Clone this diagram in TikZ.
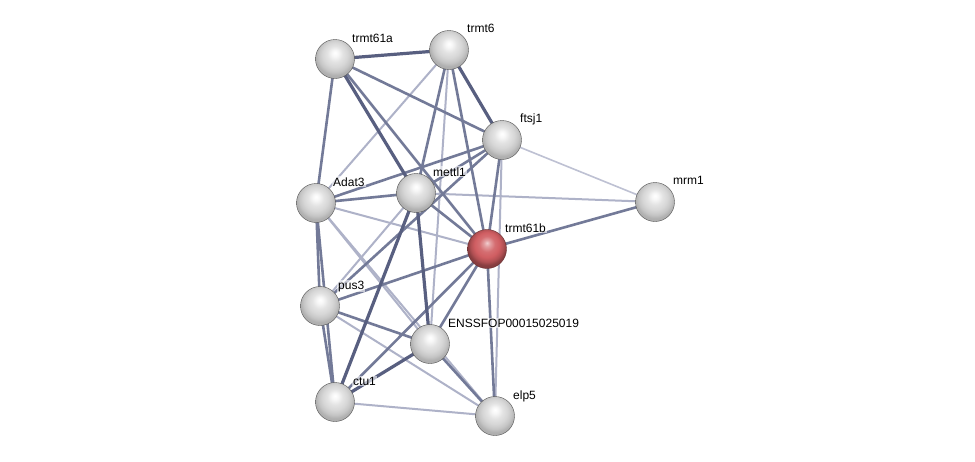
\documentclass[tikz,border=0pt]{standalone}
\usepackage{fontspec}
\setmainfont{Liberation Sans}
\definecolor{estrong}{RGB}{88,95,128}
\definecolor{emed}{RGB}{115,122,152}
\definecolor{elight}{RGB}{174,178,200}
\definecolor{ered}{RGB}{208,94,98}
\pgfdeclareradialshading{strball}{\pgfpoint{0bp}{8bp}}{%
  color(0bp)=(white); color(4bp)=(gray!6); color(10bp)=(gray!22);
  color(16bp)=(gray!32); color(21bp)=(gray!45); color(25bp)=(gray!62); color(50bp)=(gray!75)}
\pgfdeclareradialshading{redball}{\pgfpoint{0bp}{8bp}}{%
  color(0bp)=(ered!30!white); color(4bp)=(ered!60!white); color(10bp)=(ered!90!white);
  color(16bp)=(ered); color(21bp)=(ered!85!black); color(25bp)=(ered!65!black); color(50bp)=(ered!55!black)}
\begin{document}
\begin{tikzpicture}[x=1pt,y=-1pt,
  ball/.style={circle,minimum size=39pt,inner sep=0pt,shading=strball,draw=gray!65!black,line width=0.4pt},
  redb/.style={ball,shading=redball,draw=ered!50!black},
  lab/.style={anchor=base west,inner sep=1pt,fill=white,fill opacity=0.6,text opacity=1,font=\fontsize{12}{14}\selectfont},
  es/.style={draw=estrong,line width=3.2pt},
  em/.style={draw=emed,line width=2.6pt},
  el/.style={draw=elight,line width=2pt},
  evl/.style={draw=elight!80,line width=1.6pt}]
\useasboundingbox (0,0) rectangle (975,461);
\fill[white] (0,0) rectangle (975,461);
% coordinates of nodes
\coordinate (cA) at (335,59);
\coordinate (cT6) at (449,50);
\coordinate (cF) at (502,140);
\coordinate (cM) at (655,202);
\coordinate (cAd) at (316,203);
\coordinate (cMe) at (416,193);
\coordinate (cR) at (487,249);
\coordinate (cP) at (320,306);
\coordinate (cE) at (430,344);
\coordinate (cC) at (335,402);
\coordinate (cEl) at (495,416);
% edges
\draw[el] (cT6) -- (cAd);
\draw[el] (cT6) -- (cE);
\draw[evl] (cF) -- (cM);
\draw[el] (cF) -- (cEl);
\draw[el] (cAd) -- (cE);
\draw[el] (cAd) -- (cEl);
\draw[el] (cMe) -- (cM);
\draw[el] (cMe) -- (cP);
\draw[el] (cP) -- (cEl);
\draw[el] (cC) -- (cEl);
\draw[el] (cAd) -- (cR);
\draw[em] (cA) -- (cF);
\draw[em] (cA) -- (cAd);
\draw[em] (cA) -- (cR);
\draw[em] (cT6) -- (cMe);
\draw[em] (cT6) -- (cR);
\draw[em] (cF) -- (cAd);
\draw[em] (cF) -- (cMe);
\draw[em] (cF) -- (cR);
\draw[em] (cF) -- (cP);
\draw[em] (cAd) -- (cMe);
\draw[em] (cAd) -- (cP);
\draw[em] (cAd) -- (cC);
\draw[em] (cMe) -- (cR);
\draw[em] (cR) -- (cM);
\draw[em] (cR) -- (cP);
\draw[em] (cR) -- (cE);
\draw[em] (cR) -- (cC);
\draw[em] (cR) -- (cEl);
\draw[em] (cP) -- (cC);
\draw[em] (cP) -- (cE);
\draw[em] (cE) -- (cEl);
\draw[es] (cA) -- (cT6);
\draw[es] (cA) -- (cMe);
\draw[es] (cT6) -- (cF);
\draw[es] (cMe) -- (cC);
\draw[es] (cMe) -- (cE);
\draw[es] (cE) -- (cC);
% nodes
\node[ball] (A) at (cA) {};
\node[ball] (T6) at (cT6) {};
\node[ball] (F) at (cF) {};
\node[ball] (M) at (cM) {};
\node[ball] (Ad) at (cAd) {};
\node[ball] (Me) at (cMe) {};
\node[redb] (R) at (cR) {};
\node[ball] (P) at (cP) {};
\node[ball] (E) at (cE) {};
\node[ball] (C) at (cC) {};
\node[ball] (El) at (cEl) {};
% labels
\node[lab] (lA) at (351,42) {trmt61a};
\node[lab] (lT6) at (466,32) {trmt6};
\node[lab] (lF) at (519,122) {ftsj1};
\node[lab] (lM) at (672,184) {mrm1};
\node[lab] (lAd) at (332,186) {Adat3};
\node[lab] (lMe) at (432,176) {mettl1};
\node[lab] (lR) at (504,232) {trmt61b};
\node[lab] (lP) at (337,289) {pus3};
\node[lab] (lE) at (447,327) {ENSSFOP00015025019};
\node[lab] (lC) at (352,385) {ctu1};
\node[lab] (lEl) at (512,399) {elp5};
\end{tikzpicture}
\end{document}
